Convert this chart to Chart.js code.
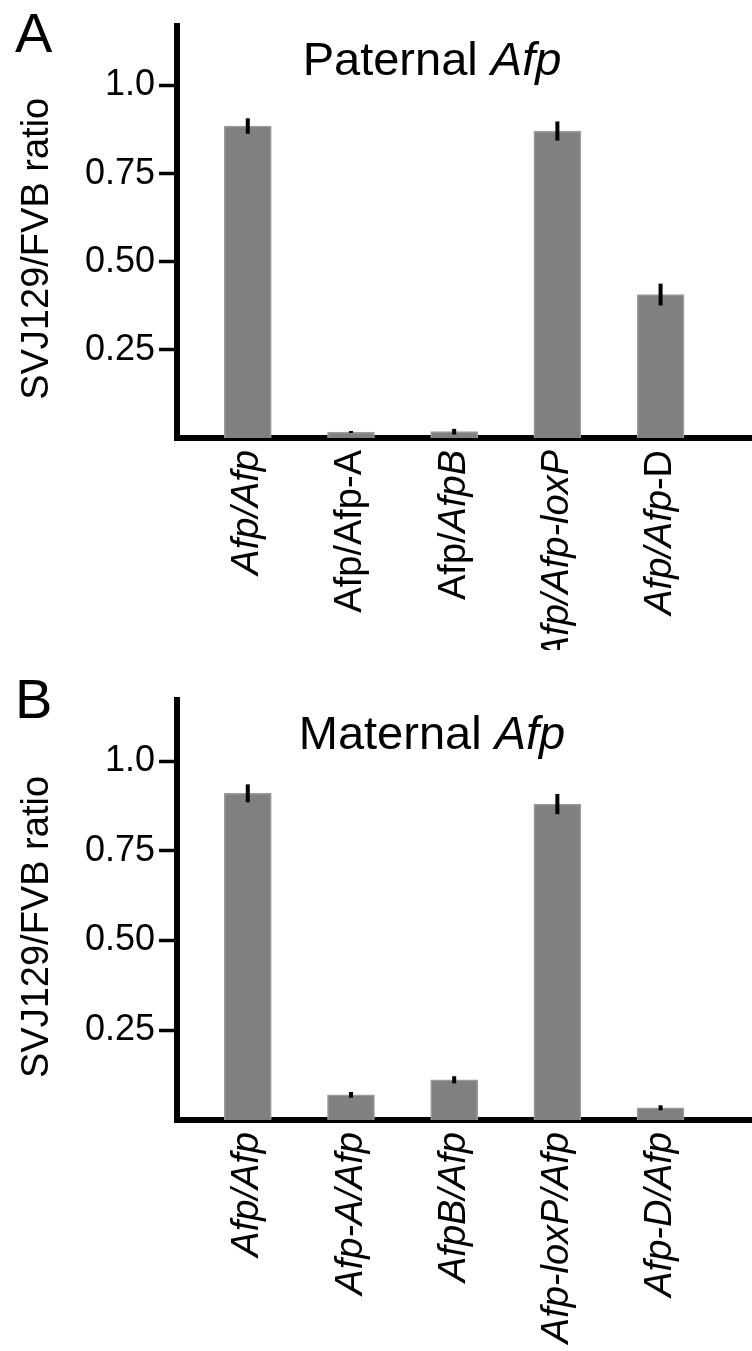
<!DOCTYPE html>
<html>
<head>
<meta charset="utf-8">
<script src="https://cdn.jsdelivr.net/npm/chart.js@4.4.0/dist/chart.umd.min.js"></script>
<style>
  html, body { margin: 0; padding: 0; background: #fff; }
  canvas { display: block; }
</style>
</head>
<body>
<canvas id="chartA" width="752" height="650"></canvas>
<canvas id="chartB" width="752" height="701"></canvas>
<script>
// '*' marks the italic parts of a label
const categoriesA = ['*Afp/Afp*', 'Afp/Afp-A', 'Afp/*AfpB*', '*Afp/Afp-loxP*', '*Afp/Afp*-D'];
const categoriesB = ['*Afp/Afp*', '*Afp-A/Afp*', '*AfpB/Afp*', '*Afp-loxP/Afp*', '*Afp-D/Afp*'];
const ratiosA = [0.885, 0.017, 0.018, 0.871, 0.407];
const errorsA = [0.022, 0.003, 0.008, 0.027, 0.031];
const ratiosB = [0.910, 0.070, 0.112, 0.880, 0.034];
const errorsB = [0.025, 0.008, 0.010, 0.028, 0.007];
const yTicks = [0.25, 0.5, 0.75, 1.0];
const yTickLabels = ['0.25', '0.50', '0.75', '1.0'];
const yTitle = 'SVJ129/FVB ratio';

const FONT = "'Liberation Sans', Arial, sans-serif";

function parts(str) {
    return str.split('*').map((t, i) => ({ text: t, italic: i % 2 === 1 })).filter(p => p.text);
}

// draws mixed upright / italic text on the current baseline
function drawParts(ctx, str, size, align) {
    const segs = parts(str);
    let total = 0;
    segs.forEach(s => {
        ctx.font = (s.italic ? 'italic ' : '') + size + 'px ' + FONT;
        s.w = ctx.measureText(s.text).width;
        total += s.w;
    });
    let x = align === 'right' ? -total : align === 'center' ? -total / 2 : 0;
    ctx.textAlign = 'left';
    segs.forEach(s => {
        ctx.font = (s.italic ? 'italic ' : '') + size + 'px ' + FONT;
        ctx.fillText(s.text, x, 0);
        x += s.w;
    });
}

const decor = {
    id: 'decor',
    afterDatasetsDraw(chart, args, opts) {
        const { ctx } = chart;
        const x = chart.scales.x, y = chart.scales.y;
        ctx.save();
        ctx.strokeStyle = '#000';
        ctx.lineWidth = 4;
        opts.values.forEach((v, i) => {
            const px = x.getPixelForValue(i);
            ctx.beginPath();
            ctx.moveTo(px, y.getPixelForValue(v - opts.errors[i]));
            ctx.lineTo(px, y.getPixelForValue(v + opts.errors[i]));
            ctx.stroke();
        });
        ctx.restore();
    },
    afterDraw(chart, args, opts) {
        const { ctx, chartArea: area } = chart;
        const x = chart.scales.x;
        ctx.save();
        ctx.fillStyle = '#000';

        // panel letter
        ctx.textBaseline = 'alphabetic';
        ctx.font = '56px ' + FONT;
        ctx.textAlign = 'left';
        ctx.fillText(opts.letter, 15, opts.letterY);

        // panel title
        ctx.save();
        ctx.translate(area.left + 255, area.top + 49);
        drawParts(ctx, opts.title, 47, 'center');
        ctx.restore();

        // y axis title
        ctx.save();
        ctx.translate(38, (area.top + area.bottom) / 2 + 17);
        ctx.rotate(-Math.PI / 2);
        ctx.textBaseline = 'middle';
        drawParts(ctx, yTitle, 38, 'center');
        ctx.restore();

        // category labels
        opts.categories.forEach((c, i) => {
            ctx.save();
            ctx.translate(x.getPixelForValue(i), area.bottom + 12);
            ctx.rotate(-Math.PI / 2);
            ctx.textBaseline = 'middle';
            drawParts(ctx, c, 38, 'right');
            ctx.restore();
        });
        ctx.restore();
    }
};

function makeChart(id, categories, values, errors, letter, title, top, letterY) {
    const canvas = document.getElementById(id);
    return new Chart(canvas, {
        type: 'bar',
        data: {
            datasets: [{
                data: values.map((v, i) => ({ x: i, y: v })),
                backgroundColor: '#808080',
                borderColor: '#9c9c9c',
                borderWidth: 1.5,
                borderSkipped: 'bottom',
                barThickness: 47
            }]
        },
        options: {
            responsive: false,
            animation: false,
            events: [],
            layout: { padding: { top: top, right: 0, bottom: 0, left: 0 } },
            plugins: {
                legend: { display: false },
                tooltip: { enabled: false },
                decor: { categories, values, errors, letter, title, letterY }
            },
            scales: {
                x: {
                    type: 'linear',
                    offset: false,
                    min: -0.686,
                    max: 4.886,
                    z: 1,
                    grid: { display: false },
                    ticks: { display: false },
                    border: { color: '#000', width: 6 },
                    afterFit: s => { s.height = canvas.height - (canvas.height === 650 ? 438 : 470); }
                },
                y: {
                    min: 0,
                    max: 1.17,
                    grid: { drawOnChartArea: false, tickLength: 18, tickWidth: 3.5, tickColor: '#000' },
                    border: { color: '#000', width: 6 },
                    ticks: {
                        color: '#000',
                        padding: 4,
                        font: { family: FONT, size: 36 },
                        callback: v => yTickLabels[yTicks.indexOf(v)]
                    },
                    afterBuildTicks: s => { s.ticks = yTicks.map(v => ({ value: v })); },
                    afterFit: s => { s.width = 177; }
                }
            }
        },
        plugins: [decor]
    });
}

makeChart('chartA', categoriesA, ratiosA, errorsA, 'A', 'Paternal *Afp*', 21, 52);
makeChart('chartB', categoriesB, ratiosB, errorsB, 'B', 'Maternal *Afp*', 50, 68);
</script>
</body>
</html>
